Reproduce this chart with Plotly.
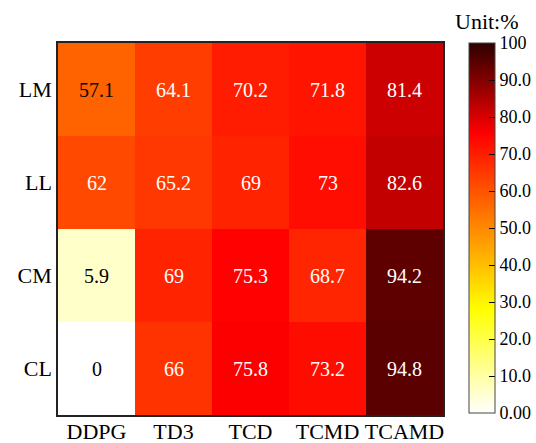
import plotly.graph_objects as go

methods = ["DDPG", "TD3", "TCD", "TCMD", "TCAMD"]
scenarios = ["LM", "LL", "CM", "CL"]
values = [
    [57.1, 64.1, 70.2, 71.8, 81.4],
    [62, 65.2, 69, 73, 82.6],
    [5.9, 69, 75.3, 68.7, 94.2],
    [0, 66, 75.8, 73.2, 94.8],
]
cbar_ticks = [0, 10, 20, 30, 40, 50, 60, 70, 80, 90, 100]
cbar_labels = ["0.00", "10.0", "20.0", "30.0", "40.0", "50.0", "60.0", "70.0", "80.0", "90.0", "100"]

# white -> yellow -> red -> dark red (reversed "hot"-like map)
colorscale = [
    [0.0, "rgb(255,255,255)"],
    [0.28, "rgb(255,255,0)"],
    [0.755, "rgb(255,0,0)"],
    [1.0, "rgb(45,0,0)"],
]

FONT = "Times New Roman, Liberation Serif, serif"

fig = go.Figure()
fig.add_trace(go.Heatmap(
    z=values, x=methods, y=scenarios,
    zmin=0, zmax=100, colorscale=colorscale,
    colorbar=dict(
        tickvals=cbar_ticks, ticktext=cbar_labels,
        ticks="inside", ticklen=6, tickcolor="black", tickwidth=1,
        tickfont=dict(size=18, family=FONT, color="black"),
        thickness=26, len=370, lenmode="pixels",
        x=(469 - 58) / 385, xanchor="left", xpad=0,
        y=1, yanchor="top", ypad=0,
        outlinewidth=1, outlinecolor="#444",
    ),
    hoverinfo="skip",
))

for i, row in enumerate(values):
    for j, v in enumerate(row):
        fig.add_annotation(
            x=methods[j], y=scenarios[i], text=str(v), showarrow=False,
            font=dict(size=20, family=FONT, color="black" if v < 60 else "white"),
        )

fig.add_annotation(
    xref="paper", yref="paper", x=(487 - 58) / 385, y=1 + (43 - 36) / 372,
    xanchor="center", yanchor="bottom", text="Unit:%", showarrow=False,
    font=dict(size=22, family=FONT, color="black"),
)

fig.update_xaxes(
    showline=True, linecolor="#222", linewidth=1.5, mirror=True,
    ticks="", tickfont=dict(size=22, family=FONT, color="black"),
    ticklabelstandoff=-4,
)
fig.update_yaxes(
    autorange="reversed",
    showline=True, linecolor="#222", linewidth=1.5, mirror=True,
    ticks="", tickfont=dict(size=22, family=FONT, color="black"),
)
fig.update_layout(
    width=536, height=443,
    margin=dict(l=58, r=93, t=43, b=28, autoexpand=False),
    paper_bgcolor="white", plot_bgcolor="white",
    font=dict(family=FONT, color="black"),
)
fig.write_html(
    "out.html",
    config={"displayModeBar": False},
    post_script="document.body.style.margin='0';document.body.style.overflow='hidden';",
)
